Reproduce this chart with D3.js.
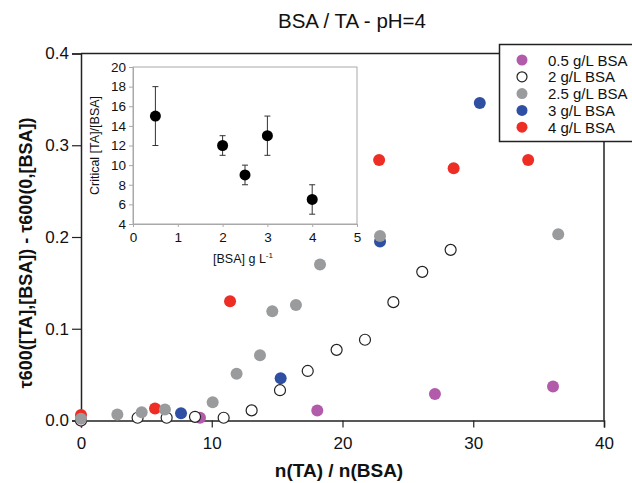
<!DOCTYPE html>
<html><head><meta charset="utf-8">
<script src="https://cdn.jsdelivr.net/npm/d3@7"></script>
<style>body{margin:0;background:#fff}svg{display:block;font-family:"Liberation Sans",Arial,sans-serif}</style>
</head><body><svg id="c" width="632" height="483"></svg>
<script>
// ---- data ----
const seriesNames = ["0.5 g/L BSA","2 g/L BSA","2.5 g/L BSA","3 g/L BSA","4 g/L BSA"];
const seriesColors = ["#b25bab","#ffffff","#9a9b9d","#2f4fa3","#ee2d25"];
const s05x = [0, 9.1, 18.07, 27.07, 36.1];
const s05y = [0.0, 0.003, 0.011, 0.029, 0.037];
const s2x = [0, 4.33, 6.55, 8.72, 10.91, 13.05, 15.22, 17.34, 19.55, 21.72, 23.89, 26.1, 28.27];
const s2y = [0.0, 0.003, 0.003, 0.004, 0.003, 0.011, 0.033, 0.054, 0.077, 0.088, 0.129, 0.162, 0.186];
const s25x = [0, 2.78, 4.64, 6.42, 10.07, 11.9, 13.69, 14.63, 16.44, 18.28, 22.87, 36.5];
const s25y = [0.002, 0.0065, 0.009, 0.012, 0.020, 0.051, 0.071, 0.119, 0.126, 0.170, 0.201, 0.203];
const s3x = [7.65, 15.27, 22.87, 30.5];
const s3y = [0.008, 0.046, 0.195, 0.346];
const s4x = [0, 5.66, 11.4, 22.8, 28.5, 34.2];
const s4y = [0.006, 0.013, 0.130, 0.284, 0.275, 0.284];
const xTicks = [0, 10, 20, 30, 40];
const yTicks = [0, 0.1, 0.2, 0.3, 0.4];
// inset
const insetX = [0.5, 2, 2.5, 3, 4];
const insetY = [15, 12, 9, 13, 6.5];
const insetLo = [12, 11, 8, 11, 5];
const insetHi = [18, 13, 10, 15, 8];
const insetXTicks = [0,1,2,3,4,5];
const insetYTicks = [4,6,8,10,12,14,16,18,20];

const svg = d3.select("#c");
const x = d3.scaleLinear().domain([0,40]).range([81,604]);
const y = d3.scaleLinear().domain([0,0.4]).range([420.5,53.5]);
const axCol = "#222";

// title
svg.append("text").attr("x",352).attr("y",28).attr("text-anchor","middle")
  .attr("font-size",20.5).attr("fill","#111").text("BSA / TA - pH=4");

// frame (top & right)
svg.append("line").attr("x1",81).attr("x2",604).attr("y1",53.5).attr("y2",53.5).attr("stroke",axCol).attr("stroke-width",1.5);
svg.append("line").attr("x1",604).attr("x2",604).attr("y1",53.5).attr("y2",420.5).attr("stroke",axCol).attr("stroke-width",1.5);

// axes
const gx = svg.append("g").attr("transform","translate(0,420.5)")
  .call(d3.axisBottom(x).tickValues(xTicks).tickSize(7).tickPadding(9).tickFormat(d3.format("d")));
const gy = svg.append("g").attr("transform","translate(81,0)")
  .call(d3.axisLeft(y).tickValues(yTicks).tickSize(9).tickPadding(3).tickFormat(d3.format(".1f")));
[gx,gy].forEach(g=>{
  g.select(".domain").attr("stroke",axCol).attr("stroke-width",1.5);
  g.selectAll(".tick line").attr("stroke",axCol).attr("stroke-width",1.2);
  g.selectAll(".tick text").attr("font-size",17).attr("fill","#111").attr("font-family","Liberation Sans, Arial, sans-serif");
});

// axis titles
svg.append("text").attr("x",339).attr("y",477).attr("text-anchor","middle")
  .attr("font-size",19).attr("font-weight","bold").attr("fill","#111").text("n(TA) / n(BSA)");
svg.append("text").attr("transform","translate(32,253) rotate(-90)").attr("text-anchor","middle")
  .attr("font-size",18).attr("font-weight","bold").attr("fill","#111")
  .text("τ600([TA],[BSA]) - τ600(0,[BSA])");

// inset
const ix = d3.scaleLinear().domain([0,5]).range([133,357]);
const iy = d3.scaleLinear().domain([4,20]).range([224,67]);
const gcol = "#a9a9a9";
svg.append("rect").attr("x",133).attr("y",67).attr("width",224).attr("height",157)
  .attr("fill","none").attr("stroke",gcol).attr("stroke-width",1);
const gix = svg.append("g").attr("transform","translate(0,224)")
  .call(d3.axisBottom(ix).tickValues(insetXTicks).tickSize(3).tickPadding(5).tickFormat(d3.format("d")));
const giy = svg.append("g").attr("transform","translate(133,0)")
  .call(d3.axisLeft(iy).tickValues(insetYTicks).tickSize(4).tickPadding(3).tickFormat(d3.format("d")));
[gix,giy].forEach(g=>{
  g.select(".domain").attr("stroke",gcol);
  g.selectAll(".tick line").attr("stroke",gcol);
  g.selectAll(".tick text").attr("font-size",13.5).attr("fill","#111").attr("font-family","Liberation Sans, Arial, sans-serif");
});
const itxt = svg.append("text").attr("x",243).attr("y",263).attr("text-anchor","middle").attr("font-size",12.5).attr("fill","#111");
itxt.append("tspan").text("[BSA] g L");
itxt.append("tspan").attr("dy",-5).attr("font-size",8).text("-1");
svg.append("text").attr("transform","translate(99,145.5) rotate(-90)").attr("text-anchor","middle")
  .attr("font-size",12.5).attr("fill","#111").text("Critical [TA]/[BSA]");
const eb = svg.append("g");
insetX.forEach((v,i)=>{
  eb.append("line").attr("x1",ix(v)).attr("x2",ix(v)).attr("y1",iy(insetLo[i])).attr("y2",iy(insetHi[i])).attr("stroke","#333").attr("stroke-width",1);
  [insetLo[i],insetHi[i]].forEach(e=>eb.append("line").attr("x1",ix(v)-3).attr("x2",ix(v)+3).attr("y1",iy(e)).attr("y2",iy(e)).attr("stroke","#333").attr("stroke-width",1));
});
eb.selectAll("circle").data(insetX).join("circle").attr("cx",d=>ix(d)).attr("cy",(d,i)=>iy(insetY[i])).attr("r",5.5).attr("fill","#000");

// main scatter (draw order: purple, open, red, blue, gray on top)
const series = [[s05x,s05y],[s2x,s2y],[s25x,s25y],[s3x,s3y],[s4x,s4y]];
[0,1,4,3,2].forEach(si=>{
  const [xs,ys] = series[si];
  svg.append("g").selectAll("circle").data(xs).join("circle")
    .attr("cx",d=>x(d)).attr("cy",(d,i)=>y(ys[i])).attr("r",si===1?5.5:6)
    .attr("fill",seriesColors[si])
    .attr("stroke",si===1?"#222":"none").attr("stroke-width",1.2);
});

// legend
const lg = svg.append("g");
lg.append("rect").attr("x",499.5).attr("y",44.5).attr("width",140).attr("height",97)
  .attr("fill","#fff").attr("stroke",axCol).attr("stroke-width",1.5);
seriesNames.forEach((n,i)=>{
  const cy = 60 + i*16.8;
  lg.append("circle").attr("cx",522).attr("cy",cy).attr("r",i===1?5:5.5)
    .attr("fill",seriesColors[i]).attr("stroke",i===1?"#222":"none").attr("stroke-width",1.2);
  lg.append("text").attr("x",548).attr("y",cy+5.5).attr("font-size",15).attr("fill","#111").text(n);
});
</script></body></html>
